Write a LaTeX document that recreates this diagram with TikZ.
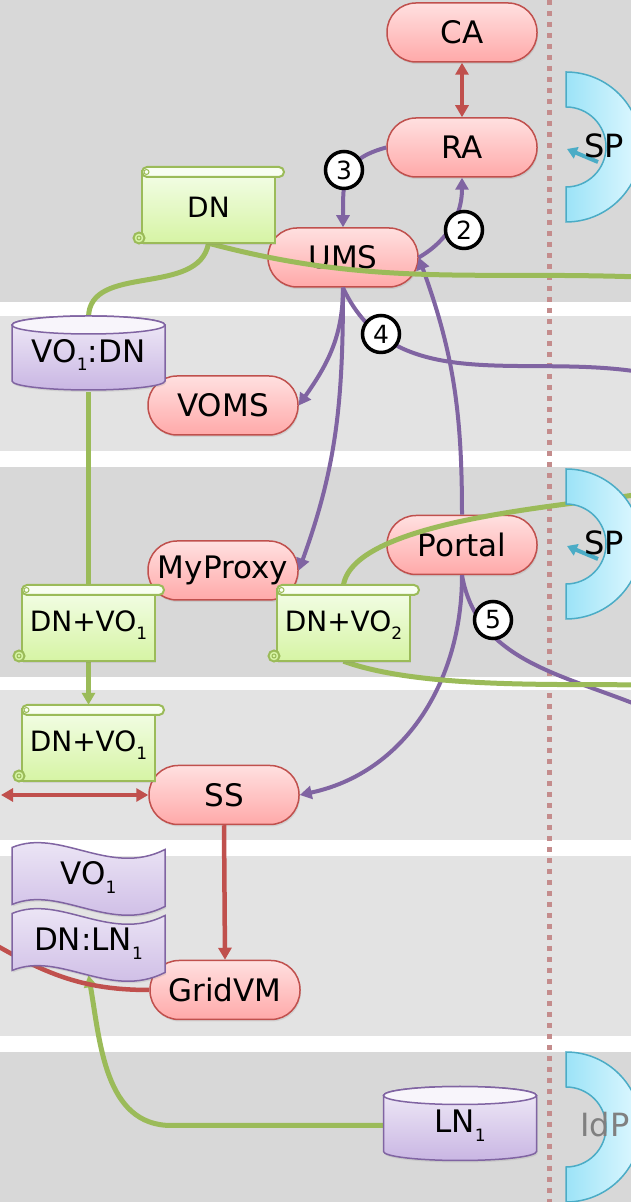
\documentclass[tikz,border=0pt]{standalone}
\usepackage{fontspec}
\setmainfont{DejaVu Sans}
\usetikzlibrary{arrows.meta, shadows}

\pgfdeclarelayer{back}
\pgfdeclarelayer{links}
\pgfsetlayers{back,links,main}

\definecolor{pillline}{HTML}{C0504D}
\definecolor{pilltop}{HTML}{FFE0E0}
\definecolor{pillbot}{HTML}{FFA9A9}
\definecolor{leafline}{HTML}{9BBB59}
\definecolor{leaftop}{HTML}{F3FDE7}
\definecolor{leafbot}{HTML}{D6F4A4}
\definecolor{plumline}{HTML}{8064A2}
\definecolor{plumtop}{HTML}{F1ECF8}
\definecolor{plumbot}{HTML}{C9B6E3}
\definecolor{skyline}{HTML}{4BACC6}
\definecolor{skyleft}{HTML}{9CE3F7}
\definecolor{skyright}{HTML}{E0F8FF}
\definecolor{banddark}{HTML}{D8D8D8}
\definecolor{bandlight}{HTML}{E3E3E3}
\definecolor{borderdot}{HTML}{C48C8C}

% lowered small index digit
\newcommand{\idx}[1]{\raisebox{-0.28em}{\fontsize{17}{17}\selectfont #1}}

\tikzset{
  notetext/.style={inner sep=0pt, font=\fontsize{31}{34}\selectfont},
  pill/.style={rectangle, rounded corners=29pt, minimum width=150pt, minimum height=59pt,
    inner sep=0pt, draw=pillline, line width=1.5pt, top color=pilltop, bottom color=pillbot,
    font=\fontsize{31}{34}\selectfont,
    drop shadow={opacity=0.18, shadow xshift=1pt, shadow yshift=-2pt}},
  redlink/.style={pillline, line width=4.5pt},
  plumlink/.style={plumline, line width=4pt},
  leaflink/.style={leafline, line width=5pt},
  numbadge/.style={circle, draw=black, line width=3.5pt, fill=white, minimum size=37pt,
    inner sep=0pt, font=\fontsize{25}{25}\selectfont},
}

% scroll: name, x, y, text
\newcommand{\scrollnote}[4]{%
  \begin{scope}[shift={(#2,#3)}]
    \draw[leafline, line width=2pt, top color=leaftop, bottom color=leafbot,
      drop shadow={opacity=0.18, shadow xshift=1pt, shadow yshift=-2pt}]
      (-66.5,-35.5) rectangle (66.5,36);
    \draw[leafline, line width=2pt, fill=leafbot] (-69.5,-30.5) circle (5.5);
    \draw[leafline, line width=1pt] (-69.5,-30.5) circle (2);
    \draw[leafline, line width=2pt, fill=leaftop!60!white, rounded corners=5pt]
      (-66.5,30.5) rectangle (75.5,40.5);
    \draw[leafline, line width=1pt] (-62,35.5) circle (2.5);
    \node[notetext, font=\fontsize{28}{32}\selectfont, minimum width=133pt,
      minimum height=71pt] (#1) at (0,0) {#4};
  \end{scope}}

% data store: name, x, y, text
\newcommand{\drum}[4]{%
  \begin{scope}[shift={(#2,#3)}]
    \draw[plumline, line width=1.5pt, top color=plumtop, bottom color=plumbot,
      drop shadow={opacity=0.18, shadow xshift=1pt, shadow yshift=-2pt}]
      (-76.5,28) -- (-76.5,-28) arc[start angle=180, end angle=360, x radius=76.5, y radius=9]
      -- (76.5,28) arc[start angle=0, end angle=180, x radius=76.5, y radius=9] -- cycle;
    \draw[plumline, line width=1.5pt, fill=plumtop!50!white]
      (0,28) ellipse[x radius=76.5, y radius=9];
    \node[notetext, minimum width=153pt, minimum height=74pt] (#1) at (0,-2) {#4};
  \end{scope}}

% waving tape: name, x, y, text
\newcommand{\tape}[4]{%
  \begin{scope}[shift={(#2,#3)}]
    \draw[plumline, line width=1.5pt, top color=plumtop, bottom color=plumbot,
      drop shadow={opacity=0.18, shadow xshift=1pt, shadow yshift=-2pt}]
      (-76.5,30) .. controls (-28.5,50) and (21.5,0) .. (76.5,28)
      -- (76.5,-29) .. controls (21.5,-57) and (-28.5,-7) .. (-76.5,-27) -- cycle;
    \node[notetext, minimum width=153pt, minimum height=57pt] (#1) at (0,0) {#4};
  \end{scope}}

% half ring on the right border, centred at height #1
\newcommand{\portarc}[1]{%
  \draw[skyline, line width=1.5pt, left color=skyleft, right color=skyright]
    (566,#1+75) arc[start angle=90, end angle=-90, radius=75]
    -- (566,#1-40) arc[start angle=-90, end angle=90, radius=40] -- cycle;}

\begin{document}
\begin{tikzpicture}[x=1pt, y=1pt, >={Triangle[length=12pt, width=13pt]}]
\useasboundingbox (0,0) rectangle (631,1202);

\begin{pgfonlayer}{back}
% lanes
\fill[white] (0,0) rectangle (631,1202);
\fill[banddark] (0,900) rectangle (631,1202);
\fill[bandlight] (0,751) rectangle (631,886);
\fill[banddark] (0,525) rectangle (631,735);
\fill[bandlight] (0,362) rectangle (631,512);
\fill[bandlight] (0,166) rectangle (631,346);
\fill[banddark] (0,0) rectangle (631,150);
\draw[borderdot, line width=5pt, dash pattern=on 5pt off 6pt] (549,1202) -- (549,0);

% services
\node[pill] (ca) at (462,1169.5) {CA};
\node[pill] (ra) at (462,1054.5) {RA};
\node[pill] (ums) at (343,944.5) {UMS};
\node[pill] (voms) at (223,796.5) {VOMS};
\node[pill] (myproxy) at (223,631.5) {MyProxy};
\node[pill] (portal) at (462,657) {Portal};
\node[pill] (ss) at (224,407) {SS};
\node[pill] (gridvm) at (225,212) {GridVM};
\end{pgfonlayer}

% credentials and stores
\scrollnote{dn}{208.5}{994.5}{DN}
\scrollnote{dnvoa}{88.5}{576.5}{DN+VO\idx{1}}
\scrollnote{dnvotwo}{343.5}{576.5}{DN+VO\idx{2}}
\scrollnote{dnvob}{88.5}{456.5}{DN+VO\idx{1}}
\drum{vodn}{88.5}{849}{VO\idx{1}:DN}
\drum{lnone}{460}{78.5}{LN\idx{1}}
\tape{voone}{88.5}{324.5}{VO\idx{1}}
\tape{dnln}{88.5}{258.5}{DN:LN\idx{1}}

% providers on the border
\portarc{1055}
\draw[skyline, line width=4pt, -{Triangle[length=10pt, width=12pt]}] (598,1040) -- (567,1053);
\node[notetext, font=\fontsize{32}{34}\selectfont] (spone) at (604,1056) {SP};
\portarc{658}
\draw[skyline, line width=4pt, -{Triangle[length=10pt, width=12pt]}] (598,643) -- (567,656);
\node[notetext, font=\fontsize{32}{34}\selectfont] (sptwo) at (604,659) {SP};
\portarc{75}
\node[notetext, font=\fontsize{32}{34}\selectfont, text=black!50] (idp) at (605,77) {IdP};

% steps
\node[numbadge] (stepthree) at (344,1032) {3};
\node[numbadge] (steptwo) at (464,972) {2};
\node[numbadge] (stepfour) at (381,868) {4};
\node[numbadge] (stepfive) at (493,582) {5};

\coordinate (eastA) at (640,925);
\coordinate (eastB) at (640,830);
\coordinate (eastC) at (640,708);
\coordinate (eastD) at (640,517);
\coordinate (eastE) at (640,496);
\coordinate (westA) at (1,407);
\coordinate (westB) at (-6,258);

\begin{pgfonlayer}{links}
\draw[redlink, <->] (ca) -- (ra);
\draw[plumlink, ->] (ra.west) to[out=195, in=90, looseness=1.3] (ums.north);
\draw[plumlink, ->] (ums.east) to[out=30, in=-90] (ra.south);
\draw[plumlink, ->] (ums.south) to[out=-90, in=55] (voms.east);
\draw[plumlink, ->] (ums.south) to[out=-90, in=70] (myproxy.east);
\draw[plumlink] (ums.south) to[out=-65, in=171] (eastB);
\draw[plumlink, ->] (portal.north) to[out=90, in=-70] (ums.east);
\draw[plumlink, ->] (portal.south) to[out=-90, in=12] (ss.east);
\draw[plumlink] (portal.south) to[out=-80, in=158] (eastE);

\draw[leaflink] (dn.south) to[out=-100, in=90] (vodn.north);
\draw[leaflink] (dn.south) to[out=-15, in=178] (eastA);
\draw[leaflink] (vodn.south) -- (dnvoa.north);
\draw[leaflink, ->] (dnvoa.south) -- ([yshift=5pt]dnvob.north);
\draw[leaflink] ([yshift=5pt]dnvotwo.north) to[out=80, in=190, looseness=0.55] (eastC);
\draw[leaflink] (dnvotwo.south) to[out=-20, in=179, looseness=0.7] (eastD);
\draw[leaflink, ->] (lnone.west) -- ++(-212,0) to[out=180, in=-80] ([yshift=-3pt]dnln.south);

\draw[redlink, <->] (ss.west) -- (westA);
\draw[redlink, ->] (ss.south) -- (gridvm.north);
\draw[redlink] (gridvm.west) to[out=180, in=-30] (westB);
\end{pgfonlayer}

\end{tikzpicture}
\end{document}
